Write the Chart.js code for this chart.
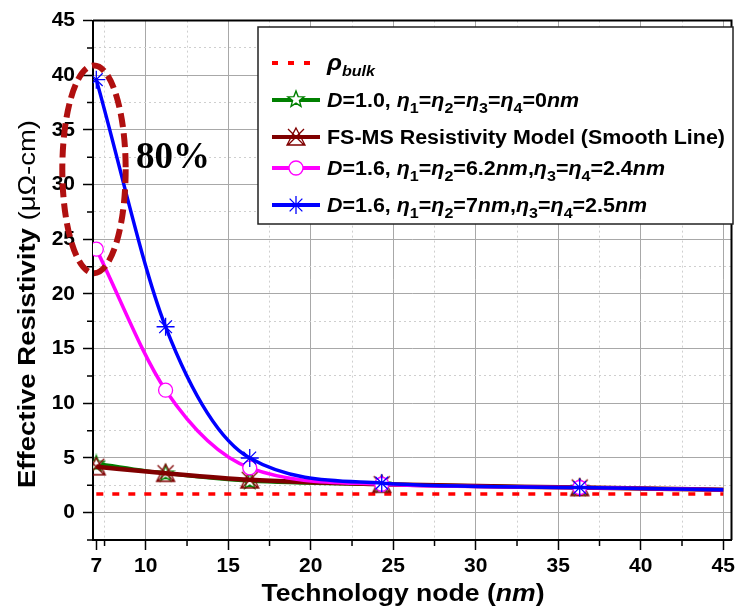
<!DOCTYPE html>
<html>
<head>
<meta charset="utf-8">
<script src="https://cdn.jsdelivr.net/npm/chart.js@4.4.1/dist/chart.umd.min.js"></script>
<style>
  body { margin: 0; background: #fff; }
  #wrap { width: 746px; height: 610px; }
</style>
</head>
<body>
<div id="wrap"><canvas id="myChart" width="746" height="610"></canvas></div>
<script>
// technology nodes (nm); last entry is the end of the smooth lines (no marker)
const nodes = [7, 11.2, 16.3, 24.3, 36.3, 45];
const rhoBulk = 1.7;
const d10 = [4.5, 3.6, 2.9, 2.6, 2.3, 2.1];
const fsms = [4.2, 3.6, 3.0, 2.6, 2.3, 2.1];
const d16a = [24.1, 11.2, 4.1, 2.6, 2.3, 2.1];
const d16b = [39.6, 17.0, 5.0, 2.7, 2.3, 2.1];

const xTickLabels = [7, 10, 15, 20, 25, 30, 35, 40, 45];
const xMinorTicks = [7.5, 12.5, 17.5, 22.5, 27.5, 32.5, 37.5, 42.5];

const FONT = '"Liberation Sans", Arial, sans-serif';

function pts(ys) {
    return nodes.map((x, i) => ({ x: x, y: ys[i] }));
}
function markerRadius(r) {
    return nodes.map((x, i) => i < nodes.length - 1 ? r : 0);
}

// marker images
function starImg(color) {
    const c = document.createElement('canvas');
    c.width = 20; c.height = 20;
    const g = c.getContext('2d');
    g.beginPath();
    for (let i = 0; i < 10; i++) {
        const r = i % 2 ? 3.6 : 8.5;
        const a = -Math.PI / 2 + i * Math.PI / 5;
        g.lineTo(10 + r * Math.cos(a), 10.5 + r * Math.sin(a));
    }
    g.closePath();
    g.fillStyle = '#fff';
    g.fill();
    g.strokeStyle = color;
    g.lineWidth = 1.4;
    g.stroke();
    return c;
}
function triCrossImg(color) {
    const c = document.createElement('canvas');
    c.width = 22; c.height = 22;
    const g = c.getContext('2d');
    g.strokeStyle = color;
    g.lineWidth = 1.3;
    g.beginPath();
    g.moveTo(11, 2); g.lineTo(20, 19); g.lineTo(2, 19); g.closePath();
    g.moveTo(3, 3); g.lineTo(19, 19);
    g.moveTo(19, 3); g.lineTo(3, 19);
    g.stroke();
    return c;
}
const greenStar = starImg('#008000');
const brownMark = triCrossImg('#800000');

const data = {
    datasets: [{
        label: 'rho bulk',
        data: [{ x: 7, y: rhoBulk }, { x: 45, y: rhoBulk }],
        borderColor: '#ff0000',
        borderWidth: 3.5,
        borderDash: [7, 9],
        pointRadius: 0,
        order: 4,
    }, {
        label: 'D=1.0',
        data: pts(d10),
        borderColor: '#008000',
        borderWidth: 3.5,
        cubicInterpolationMode: 'monotone',
        pointStyle: greenStar,
        pointRadius: markerRadius(9),
        order: 3,
    }, {
        label: 'FS-MS',
        data: pts(fsms),
        borderColor: '#800000',
        borderWidth: 4.5,
        cubicInterpolationMode: 'monotone',
        pointStyle: brownMark,
        pointRadius: markerRadius(10),
        order: 2,
    }, {
        label: 'D=1.6 a',
        data: pts(d16a),
        borderColor: '#ff00ff',
        backgroundColor: '#ffffff',
        borderWidth: 3.5,
        cubicInterpolationMode: 'monotone',
        pointStyle: 'circle',
        pointRadius: markerRadius(7),
        pointBorderWidth: 1.3,
        order: 1,
    }, {
        label: 'D=1.6 b',
        data: pts(d16b),
        borderColor: '#0000ff',
        borderWidth: 3.5,
        cubicInterpolationMode: 'monotone',
        pointStyle: 'star',
        pointRadius: markerRadius(9),
        pointBorderWidth: 1.3,
        order: 0,
    }]
};

function isMajor(v) { return Math.abs(v % 5) < 1e-6; }

// legend rows: [style, rich text segments]
const legendRows = [
    ['rho', [{ t: 'ρ', i: 1, s: 23 }, { t: 'bulk', i: 1, sub: 1 }]],
    ['green', [{ t: 'D', i: 1 }, { t: '=1.0, ' }, { t: 'η', i: 1 }, { t: '1', sub: 1 }, { t: '=' }, { t: 'η', i: 1 }, { t: '2', sub: 1 },
        { t: '=' }, { t: 'η', i: 1 }, { t: '3', sub: 1 }, { t: '=' }, { t: 'η', i: 1 }, { t: '4', sub: 1 }, { t: '=0' }, { t: 'nm', i: 1 }]],
    ['brown', [{ t: 'FS-MS Resistivity Model (Smooth Line)' }]],
    ['magenta', [{ t: 'D', i: 1 }, { t: '=1.6, ' }, { t: 'η', i: 1 }, { t: '1', sub: 1 }, { t: '=' }, { t: 'η', i: 1 }, { t: '2', sub: 1 },
        { t: '=6.2' }, { t: 'nm', i: 1 }, { t: ',' }, { t: 'η', i: 1 }, { t: '3', sub: 1 }, { t: '=' }, { t: 'η', i: 1 }, { t: '4', sub: 1 }, { t: '=2.4' }, { t: 'nm', i: 1 }]],
    ['blue', [{ t: 'D', i: 1 }, { t: '=1.6, ' }, { t: 'η', i: 1 }, { t: '1', sub: 1 }, { t: '=' }, { t: 'η', i: 1 }, { t: '2', sub: 1 },
        { t: '=7' }, { t: 'nm', i: 1 }, { t: ',' }, { t: 'η', i: 1 }, { t: '3', sub: 1 }, { t: '=' }, { t: 'η', i: 1 }, { t: '4', sub: 1 }, { t: '=2.5' }, { t: 'nm', i: 1 }]],
];
const legendRowY = [63, 100, 137, 168, 205];

function segFont(s, size) {
    const fs = s.s || (s.sub ? Math.round(size * 0.75) : size);
    return (s.i ? 'italic ' : '') + (s.light ? '' : 'bold ') + fs + 'px ' + FONT;
}
function richWidth(ctx, segs, size) {
    let w = 0;
    segs.forEach(s => { ctx.font = segFont(s, size); w += ctx.measureText(s.t).width; });
    return w;
}
function drawRich(ctx, x, y, segs, size) {
    for (const s of segs) {
        ctx.font = segFont(s, size);
        ctx.fillText(s.t, x, y + (s.sub ? size * 0.32 : 0));
        x += ctx.measureText(s.t).width;
    }
    return x;
}
// draws rich text stretched horizontally by sx
function drawFitted(ctx, x, y, segs, size, sx) {
    ctx.save();
    ctx.translate(x, y);
    ctx.scale(sx, 1);
    drawRich(ctx, 0, 0, segs, size);
    ctx.restore();
}

const extras = {
    id: 'extras',
    afterDraw(chart) {
        const ctx = chart.ctx;
        const xs = chart.scales.x, ys = chart.scales.y;
        const a = chart.chartArea;
        ctx.save();

        // minor tick marks
        ctx.strokeStyle = '#000';
        ctx.lineWidth = 1.5;
        ctx.beginPath();
        xMinorTicks.forEach(v => {
            const px = xs.getPixelForValue(v);
            ctx.moveTo(px, a.bottom); ctx.lineTo(px, a.bottom + 6);
        });
        ys.ticks.forEach(t => {
            if (!isMajor(t.value)) {
                const py = ys.getPixelForValue(t.value);
                ctx.moveTo(a.left, py); ctx.lineTo(a.left - 6, py);
            }
        });
        ctx.stroke();

        // top and right frame
        ctx.lineWidth = 2;
        ctx.beginPath();
        ctx.moveTo(a.left, a.top); ctx.lineTo(a.right, a.top); ctx.lineTo(a.right, a.bottom);
        ctx.stroke();

        // legend box
        const L = 258, T = 27, R = 733, B = 224;
        ctx.fillStyle = '#fff';
        ctx.fillRect(L, T, R - L, B - T);
        ctx.strokeStyle = '#222';
        ctx.lineWidth = 1.5;
        ctx.strokeRect(L, T, R - L, B - T);

        const legSize = 20;
        const legScale = 398 / richWidth(ctx, legendRows[2][1], legSize);
        legendRows.forEach((row, i) => {
            const y = legendRowY[i];
            const x0 = 272, x1 = 320, xm = 296;
            ctx.setLineDash([]);
            if (row[0] === 'rho') {
                ctx.strokeStyle = '#ff0000'; ctx.lineWidth = 4;
                ctx.setLineDash([6, 10]);
                ctx.beginPath(); ctx.moveTo(x0, y); ctx.lineTo(x1, y); ctx.stroke();
                ctx.setLineDash([]);
            } else {
                const col = { green: '#008000', brown: '#800000', magenta: '#ff00ff', blue: '#0000ff' }[row[0]];
                ctx.strokeStyle = col; ctx.lineWidth = 4;
                ctx.beginPath(); ctx.moveTo(x0, y); ctx.lineTo(x1, y); ctx.stroke();
                if (row[0] === 'green') ctx.drawImage(greenStar, xm - 10, y - 11);
                if (row[0] === 'brown') ctx.drawImage(brownMark, xm - 11, y - 11);
                if (row[0] === 'magenta') {
                    ctx.fillStyle = '#fff'; ctx.lineWidth = 1.3;
                    ctx.beginPath(); ctx.arc(xm, y, 7, 0, Math.PI * 2); ctx.fill(); ctx.stroke();
                }
                if (row[0] === 'blue') {
                    ctx.lineWidth = 1.3;
                    ctx.beginPath();
                    for (let k = 0; k < 4; k++) {
                        const ang = k * Math.PI / 4;
                        ctx.moveTo(xm - 9 * Math.cos(ang), y - 9 * Math.sin(ang));
                        ctx.lineTo(xm + 9 * Math.cos(ang), y + 9 * Math.sin(ang));
                    }
                    ctx.stroke();
                }
            }
            ctx.fillStyle = '#000';
            ctx.textBaseline = 'alphabetic';
            ctx.textAlign = 'left';
            drawFitted(ctx, 327, y + 7, row[1], legSize, legScale);
        });

        // dashed ellipse and 80% annotation
        const cx = xs.getPixelForValue(6.86), cy = ys.getPixelForValue(31.4);
        const rx = xs.getPixelForValue(6.86 + 1.92) - cx;
        const ry = cy - ys.getPixelForValue(31.4 + 9.5);
        ctx.strokeStyle = '#b01010';
        ctx.lineWidth = 6;
        ctx.setLineDash([14, 6]);
        ctx.beginPath(); ctx.ellipse(cx, cy, rx, ry, 0, 0, Math.PI * 2); ctx.stroke();
        ctx.setLineDash([]);

        ctx.fillStyle = '#000';
        ctx.font = 'bold 37px "Liberation Serif", "Times New Roman", serif';
        ctx.textAlign = 'center';
        ctx.textBaseline = 'middle';
        ctx.fillText('80%', xs.getPixelForValue(11.65), ys.getPixelForValue(32.4));

        // axis titles
        ctx.textBaseline = 'alphabetic';
        ctx.textAlign = 'left';
        const xt = [{ t: 'Technology node (' }, { t: 'nm', i: 1 }, { t: ')' }];
        const xw = richWidth(ctx, xt, 24);
        drawFitted(ctx, 403 - 283 / 2, 601, xt, 24, 283 / xw);

        const yt = [{ t: 'Effective Resistivity ' }, { t: '(μΩ-cm)', light: 1 }];
        const yw = richWidth(ctx, yt, 24);
        ctx.translate(35, 304);
        ctx.rotate(-Math.PI / 2);
        drawFitted(ctx, -368 / 2, 0, yt, 24, 368 / yw);

        ctx.restore();
    }
};

const config = {
    type: 'line',
    data: data,
    options: {
        responsive: false,
        animation: false,
        layout: { padding: { top: 17, right: 6, left: 0, bottom: 0 } },
        plugins: {
            legend: { display: false },
            tooltip: { enabled: false },
        },
        scales: {
            x: {
                type: 'linear',
                min: 6.8,
                max: 45.5,
                afterBuildTicks: scale => {
                    scale.ticks = xTickLabels.concat(xMinorTicks).sort((p, q) => p - q).map(v => ({ value: v }));
                },
                afterFit: scale => { scale.height = 70; },
                ticks: {
                    autoSkip: false,
                    maxRotation: 0,
                    padding: 4,
                    color: '#000',
                    font: { family: FONT, size: 21, weight: 'bold' },
                    callback: v => xTickLabels.includes(v) ? String(v) : '',
                },
                grid: {
                    tickLength: 10,
                    color: c => c.tick && c.tick.value === 7 ? 'transparent' : (isMajor(c.tick.value) ? '#a8a8a8' : '#cfcfcf'),
                    tickColor: c => xTickLabels.includes(c.tick.value) ? '#000' : 'transparent',
                    tickWidth: 1.5,
                    lineWidth: 1,
                },
                border: {
                    color: '#000',
                    width: 2,
                    dash: c => isMajor(c.tick.value) ? [] : [2, 3],
                },
            },
            y: {
                min: -2.5,
                max: 45,
                afterFit: scale => { scale.width = 93; },
                ticks: {
                    stepSize: 2.5,
                    autoSkip: false,
                    padding: 8,
                    color: '#000',
                    font: { family: FONT, size: 21, weight: 'bold' },
                    callback: v => isMajor(v) ? String(v) : '',
                },
                grid: {
                    tickLength: 10,
                    color: c => isMajor(c.tick.value) ? '#a8a8a8' : '#cfcfcf',
                    tickColor: c => isMajor(c.tick.value) ? '#000' : 'transparent',
                    tickWidth: 1.5,
                    lineWidth: 1,
                },
                border: {
                    color: '#000',
                    width: 2,
                    dash: c => isMajor(c.tick.value) ? [] : [2, 3],
                },
            },
        },
    },
    plugins: [extras],
};

var myChart = new Chart(document.getElementById('myChart'), config);
</script>
</body>
</html>
